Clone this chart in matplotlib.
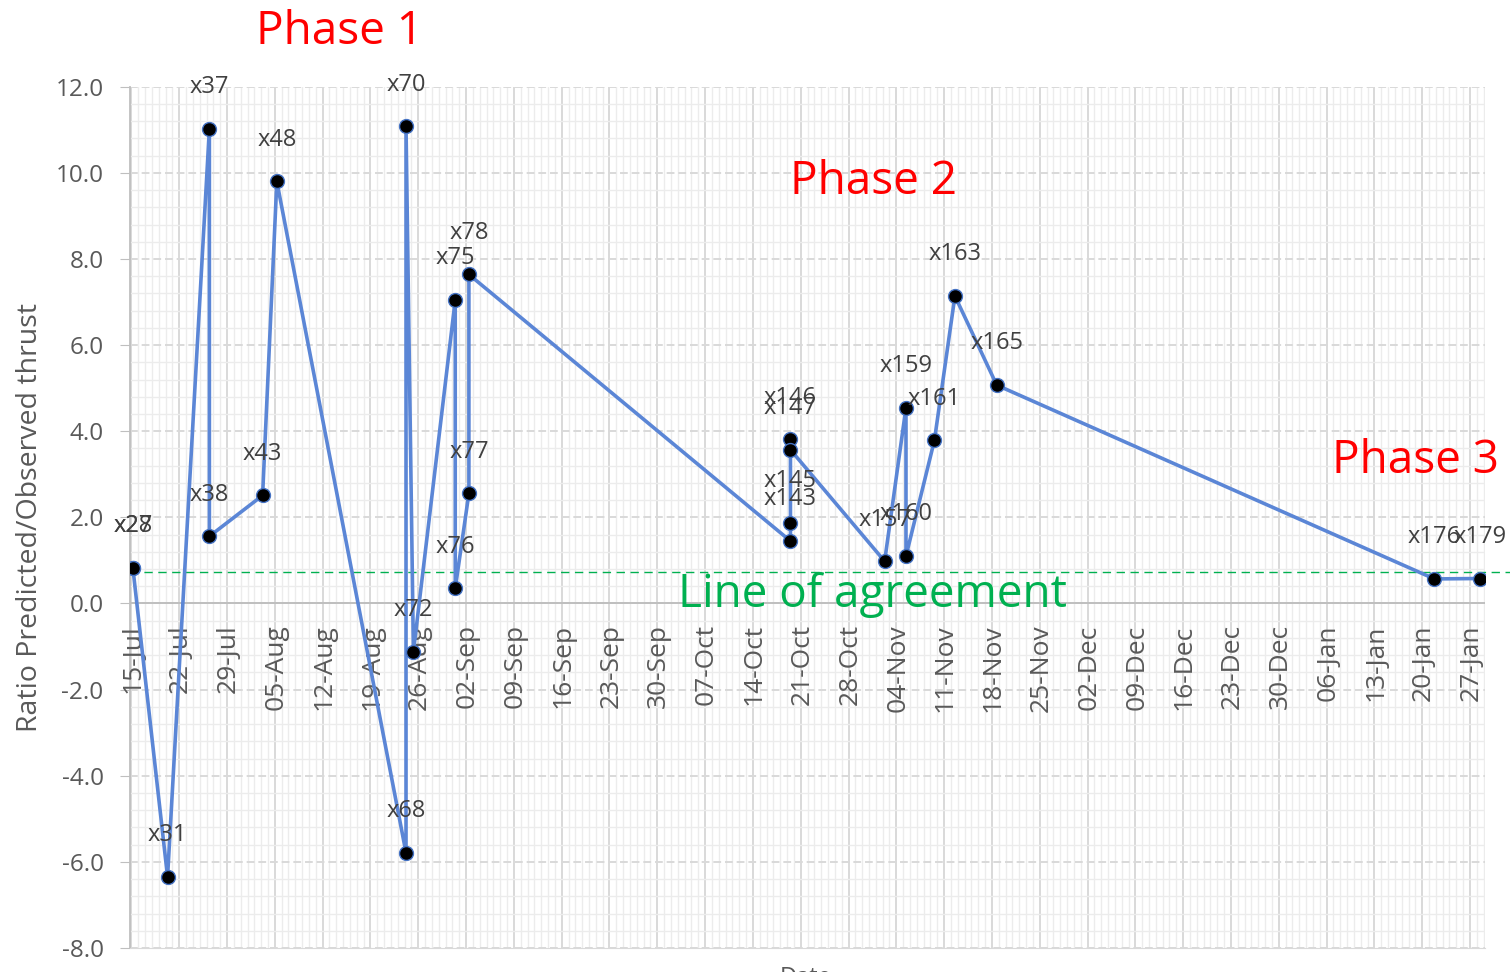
import matplotlib
matplotlib.use("Agg")
import matplotlib.pyplot as plt
import matplotlib.dates as mdates
import matplotlib.transforms as mtransforms
import pandas as pd

plt.rcParams['font.family'] = ['Open Sans', 'DejaVu Sans']

# Test runs, in order
run_labels = ["x27", "x28", "x31", "x37", "x38", "x43", "x48", "x68", "x70", "x72",
              "x75", "x76", "x77", "x78", "x143", "x145", "x146", "x147", "x157",
              "x159", "x160", "x161", "x163", "x165", "x176", "x179"]
run_dates = ["2019-07-15 05:00", "2019-07-15 05:00", "2019-07-20 07:00", "2019-07-26 10:00",
             "2019-07-26 10:00", "2019-08-03 05:00", "2019-08-05 07:00", "2019-08-24 05:00",
             "2019-08-24 05:00", "2019-08-25 07:00", "2019-08-31 10:00", "2019-08-31 10:00",
             "2019-09-02 10:00", "2019-09-02 10:00", "2019-10-19 12:00", "2019-10-19 12:00",
             "2019-10-19 12:00", "2019-10-19 12:00", "2019-11-02 07:00", "2019-11-05 10:00",
             "2019-11-05 10:00", "2019-11-09 14:00", "2019-11-12 14:00", "2019-11-18 17:00",
             "2020-01-21 19:00", "2020-01-28 10:00"]
thrust_ratio = [0.83, 0.83, -6.35, 11.02, 1.56, 2.51, 9.80, -5.79, 11.08, -1.12,
                7.05, 0.35, 2.56, 7.64, 1.45, 1.88, 3.81, 3.57, 0.98,
                4.55, 1.10, 3.79, 7.14, 5.07, 0.57, 0.58]
agreement = 0.72

phase_texts = ["Phase 1", "Phase 2", "Phase 3"]

dates = pd.to_datetime(run_dates)
start = pd.Timestamp("2019-07-15")
tick_dates = pd.date_range(start, "2020-01-27", freq="7D")

fig = plt.figure(figsize=(15.1, 9.72), dpi=100)
ax = fig.add_axes([130 / 1510, 1 - 948 / 972, 1355 / 1510, (948 - 86.7) / 972])

ax.set_xlim(start - pd.Timedelta(hours=5), start + pd.Timedelta(days=198.2))
ax.set_ylim(-8, 12)

# grid: weekly / daily vertical, 2.0 / 0.4 horizontal
ax.set_xticks(tick_dates)
ax.xaxis.set_minor_locator(mdates.DayLocator())
ax.set_yticks(range(-8, 13, 2))
ax.set_yticks([v * 0.4 for v in range(-20, 31)], minor=True)
ax.grid(which='minor', color='#ECECEC', lw=1.0, zorder=0)
ax.grid(which='major', axis='x', color='#D9D9D9', lw=1.4, zorder=0)
ax.grid(which='major', axis='y', color='#D9D9D9', lw=1.4, ls=(0, (4, 2)), zorder=0)
ax.set_axisbelow(True)

for s in ['top', 'right']:
    ax.spines[s].set_visible(False)
ax.spines['left'].set_color('#BFBFBF')
ax.spines['bottom'].set_color('#D9D9D9')
ax.spines['left'].set_linewidth(1.3)
ax.axhline(0, color='#BFBFBF', lw=1.4, zorder=1)

ax.tick_params(axis='y', which='major', length=7, color='#BFBFBF', labelsize=17.5,
               labelcolor='#595959', pad=12)
ax.tick_params(axis='y', which='minor', length=0)
ax.tick_params(axis='x', which='both', length=0, labelbottom=False)
ax.yaxis.set_major_formatter(matplotlib.ticker.FormatStrFormatter('%.1f'))

# date labels sit under the zero line
for d in tick_dates:
    ax.annotate(d.strftime('%d-%b'), (d, 0), xytext=(1, -15), textcoords='offset points',
                rotation=90, ha='center', va='top', fontsize=19, color='#595959')

ax.plot(dates, thrust_ratio, color='#5B86D6', lw=2.6, marker='o', markersize=10,
        markerfacecolor='black', markeredgecolor='#4472C4', markeredgewidth=1, zorder=3)

for lab, d, v in zip(run_labels, dates, thrust_ratio):
    ax.annotate(lab, (d, v), xytext=(0, 30), textcoords='offset points',
                ha='center', va='center', fontsize=17, color='#404040', zorder=4)

# line of agreement runs past the plot edge
trans = mtransforms.blended_transform_factory(ax.transAxes, ax.transData)
ax.plot([0, (1510 - 130) / 1355], [agreement, agreement], transform=trans,
        color='#00B050', lw=1.0, ls=(0, (6, 4)), clip_on=False, zorder=2)

fig.text(30 / 1510, 1 - 517 / 972, 'Ratio Predicted/Observed thrust', rotation=90,
         ha='center', va='center', fontsize=20.5, color='#595959')

fig.text(806 / 1510, 1 - 984 / 972, 'Date', ha='center', va='baseline',
         fontsize=17, color='#595959')

fig.text(340 / 1510, 1 - 44 / 972, phase_texts[0], color='red', fontsize=33,
         ha='center', va='baseline')
fig.text(873 / 1510, 1 - 194 / 972, phase_texts[1], color='red', fontsize=33,
         ha='center', va='baseline')
fig.text(1415 / 1510, 1 - 473 / 972, phase_texts[2], color='red', fontsize=33,
         ha='center', va='baseline')
fig.text(873 / 1510, 1 - 607 / 972, 'Line of agreement', color='#00B050', fontsize=33,
         ha='center', va='baseline')

fig.savefig('out.png', dpi=100)
